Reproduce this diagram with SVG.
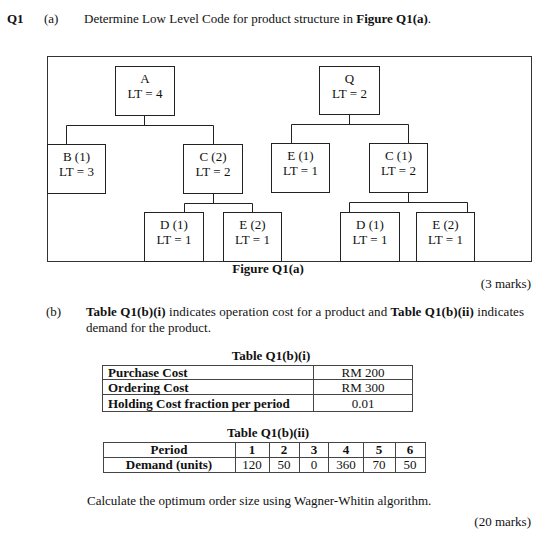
<svg xmlns="http://www.w3.org/2000/svg" width="560" height="555" viewBox="0 0 560 555">
<style>
text{font-family:"Liberation Serif","Times New Roman",serif;font-size:13px;fill:#111}
.b{font-weight:bold}
.m{text-anchor:middle}
.e{text-anchor:end}
.box{fill:#fff;stroke:#222;stroke-width:1}
.ln{fill:none;stroke:#222;stroke-width:1}
.tb{fill:none;stroke:#444;stroke-width:1}
</style>
<rect width="560" height="555" fill="#fff"/>
<text x="7" y="23" class="b">Q1</text>
<text x="44" y="23">(a)</text>
<text x="84" y="23">Determine Low Level Code for product structure in <tspan class="b">Figure Q1(a)</tspan>.</text>
<rect x="47.5" y="56.5" width="484" height="205" fill="none" stroke="#333" stroke-width="1"/>
<g id="connectors">
<path class="ln" d="M144.5 115V125.5M66.5 144V125.5H213.5V144"/>
<path class="ln" d="M213.5 193V203.5M184.5 212V203.5H252.5V212"/>
<path class="ln" d="M349.5 114V124.5M291.5 143V124.5H408.5V143"/>
<path class="ln" d="M408.5 192V202.5M349.5 212V202.5H467.5V212"/>
</g>
<g id="nA"><rect class="box" x="115.5" y="66.5" width="59" height="49"/><text x="145" y="83" class="m">A</text><text x="145" y="98" class="m">LT = 4</text></g>
<g id="nB"><rect class="box" x="47.5" y="144.5" width="58" height="49"/><text x="76.5" y="161" class="m">B (1)</text><text x="76.5" y="176" class="m">LT = 3</text></g>
<g id="nC2"><rect class="box" x="183.5" y="144.5" width="59" height="49"/><text x="213" y="161" class="m">C (2)</text><text x="213" y="176" class="m">LT = 2</text></g>
<g id="nD1a"><rect class="box" x="144.5" y="212.5" width="59" height="49"/><text x="174" y="229" class="m">D (1)</text><text x="174" y="244" class="m">LT = 1</text></g>
<g id="nE2a"><rect class="box" x="223.5" y="212.5" width="58" height="49"/><text x="252.5" y="229" class="m">E (2)</text><text x="252.5" y="244" class="m">LT = 1</text></g>
<g id="nQ"><rect class="box" x="319.5" y="66.5" width="60" height="48"/><text x="349.5" y="83" class="m">Q</text><text x="349.5" y="98" class="m">LT = 2</text></g>
<g id="nE1"><rect class="box" x="271.5" y="143.5" width="58" height="49"/><text x="300.5" y="160" class="m">E (1)</text><text x="300.5" y="175" class="m">LT = 1</text></g>
<g id="nC1"><rect class="box" x="369.5" y="143.5" width="58" height="49"/><text x="398.5" y="160" class="m">C (1)</text><text x="398.5" y="175" class="m">LT = 2</text></g>
<g id="nD1b"><rect class="box" x="340.5" y="212.5" width="59" height="49"/><text x="370" y="229" class="m">D (1)</text><text x="370" y="244" class="m">LT = 1</text></g>
<g id="nE2b"><rect class="box" x="416.5" y="212.5" width="58" height="49"/><text x="445.5" y="229" class="m">E (2)</text><text x="445.5" y="244" class="m">LT = 1</text></g>
<text x="268" y="273" class="m b">Figure Q1(a)</text>
<text x="531" y="288" class="e">(3 marks)</text>
<text x="46" y="316">(b)</text>
<text x="86" y="316" textLength="438" lengthAdjust="spacing"><tspan class="b">Table Q1(b)(i)</tspan> indicates operation cost for a product and  <tspan class="b">Table Q1(b)(ii)</tspan> indicates</text>
<text x="86" y="332">demand for the product.</text>
<text x="271" y="360" class="m b">Table Q1(b)(i)</text>
<g id="table1">
<rect class="tb" x="102.5" y="365.5" width="310" height="46"/>
<path class="tb" d="M102.5 379.5H412.5M102.5 394.5H412.5M313.5 365.5V411.5"/>
<text x="108" y="376.5" class="b">Purchase Cost</text>
<text x="108" y="391.5" class="b">Ordering Cost</text>
<text x="108" y="407.5" class="b">Holding Cost fraction per period</text>
<text x="363" y="376.5" class="m">RM 200</text>
<text x="363" y="391.5" class="m">RM 300</text>
<text x="363" y="407.5" class="m">0.01</text>
</g>
<text x="268" y="437" class="m b">Table Q1(b)(ii)</text>
<g id="table2">
<rect class="tb" x="103.5" y="442.5" width="322" height="30"/>
<path class="tb" d="M103.5 457.5H425.5M235.5 442.5V472.5M269.5 442.5V472.5M299.5 442.5V472.5M328.5 442.5V472.5M363.5 442.5V472.5M395.5 442.5V472.5"/>
<text x="169" y="454" class="m b">Period</text>
<text x="252" y="454" class="m b">1</text>
<text x="284" y="454" class="m b">2</text>
<text x="314" y="454" class="m b">3</text>
<text x="346" y="454" class="m b">4</text>
<text x="379" y="454" class="m b">5</text>
<text x="410" y="454" class="m b">6</text>
<text x="169" y="469" class="m b">Demand (units)</text>
<text x="252" y="469" class="m">120</text>
<text x="284" y="469" class="m">50</text>
<text x="314" y="469" class="m">0</text>
<text x="346" y="469" class="m">360</text>
<text x="379" y="469" class="m">70</text>
<text x="410" y="469" class="m">50</text>
</g>
<text x="87" y="505">Calculate the optimum order size using Wagner-Whitin algorithm.</text>
<text x="531" y="526" class="e">(20 marks)</text>
</svg>
